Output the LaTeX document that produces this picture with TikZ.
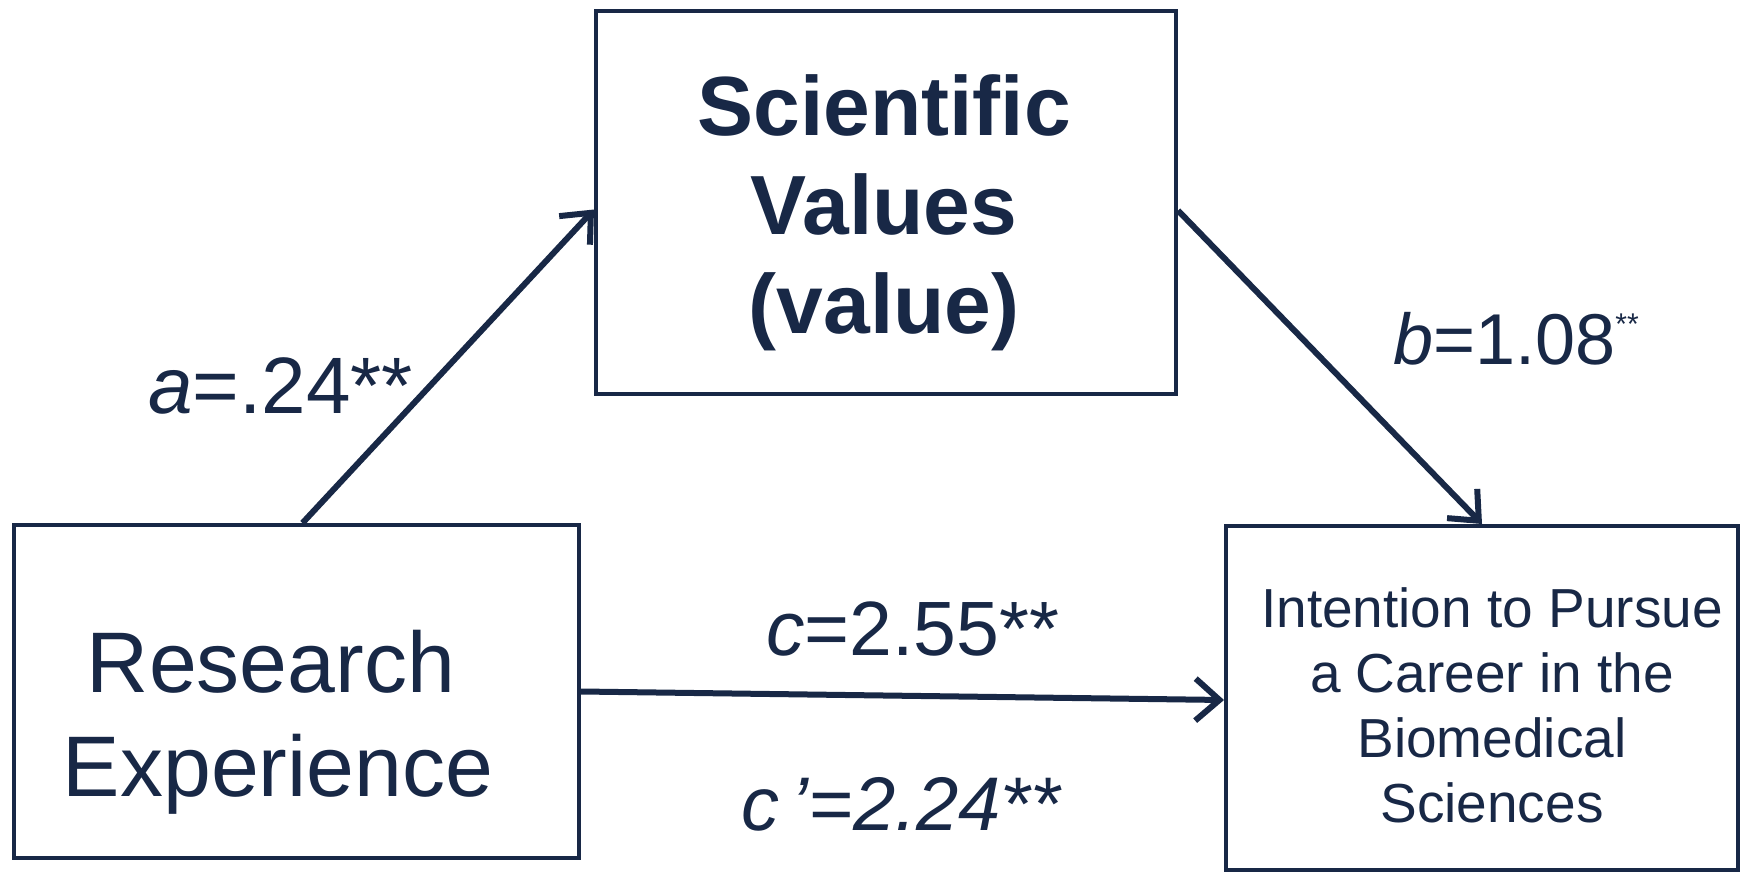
\documentclass[tikz,border=0pt]{standalone}
\usepackage{fontspec}
\setmainfont{Liberation Sans}
\usetikzlibrary{arrows.meta}
\definecolor{navy}{HTML}{182846}
\begin{document}
\begin{tikzpicture}[x=1pt,y=-1pt,
  box/.style={draw=navy, line width=4pt, rectangle, inner sep=0pt},
  txt/.style={text=navy, align=center, inner sep=0pt},
  lab/.style={text=navy, inner sep=0pt, anchor=base west},
  arr/.style={draw=navy, line width=6pt, -{Straight Barb[length=24pt,width=42pt]}}]
\useasboundingbox[fill=white] (0,0) rectangle (1740,872);
% boxes
\node[box, minimum width=580pt, minimum height=383pt] (sv) at (886,202.5) {};
\node[box, minimum width=565pt, minimum height=333pt] (re) at (296.5,691.5) {};
\node[box, minimum width=512pt, minimum height=344pt] (ip) at (1482,698) {};
% box texts
\node[txt, font=\fontsize{84}{99}\selectfont\bfseries] (svt) at (884,213) {Scientific\\Values\\(value)};
\node[txt, font=\fontsize{86}{104}\selectfont] (ret) at (278,722) {\mbox{Research\hspace{14pt}}\\Experience};
\node[txt, font=\fontsize{55}{65}\selectfont] (ipt) at (1492,705) {Intention to Pursue\\a Career in the\\Biomedical\\Sciences};
% arrows
\draw[arr] ([xshift=6pt]re.north) -- ([yshift=-7pt]sv.west);
\draw[arr] ([yshift=-8pt]sv.east) -- (ip.north);
\draw[arr] (re.east) -- ([yshift=-2pt]ip.west);
% labels
\node[lab, font=\fontsize{80}{90}\selectfont] (la) at (148,413) {\textit{a}=.24**};
\node[lab, font=\fontsize{72}{90}\selectfont] (lb) at (1393,364) {\textit{b}=1.08\raisebox{30pt}{\fontsize{30}{30}\selectfont **}};
\node[lab, font=\fontsize{77}{90}\selectfont] (lc) at (766,655) {\textit{c}=2.55**};
\node[lab, font=\fontsize{76}{90}\selectfont] (lcp) at (741,830) {\textit{c\,’=2.24**}};
\end{tikzpicture}
\end{document}
